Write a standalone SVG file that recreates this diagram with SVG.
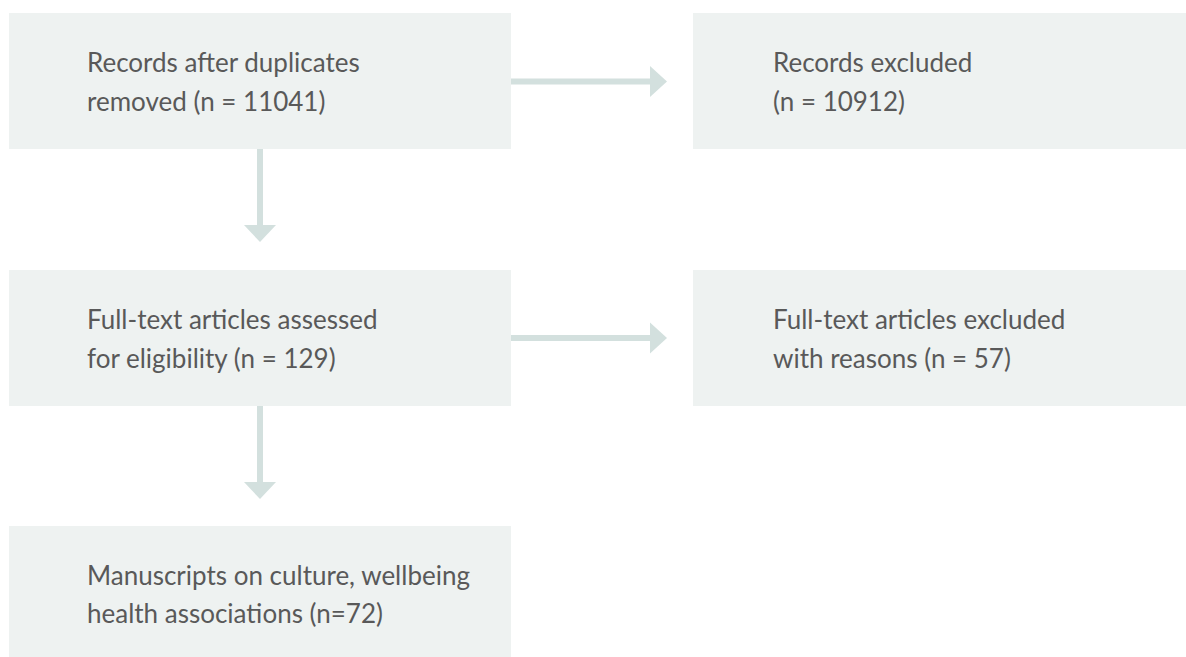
<svg xmlns="http://www.w3.org/2000/svg" width="1186" height="657" viewBox="0 0 1186 657">
<style>
.box{fill:#eef2f1}
.t{font-family:Lato,"Source Sans Pro","Noto Sans",sans-serif;font-size:26px;fill:#595959}
.c{fill:#d3e0de}
</style>
<rect width="1186" height="657" fill="#ffffff"/>
<g id="connectors">
<rect class="c" x="511" y="78.5" width="140" height="6"/>
<polygon class="c" points="650,66 650,97 667,81.5"/>
<rect class="c" x="511" y="335" width="140" height="6"/>
<polygon class="c" points="650,322.5 650,353.5 667,338"/>
<rect class="c" x="257" y="149" width="6" height="77"/>
<polygon class="c" points="244,225 276,225 260,242"/>
<rect class="c" x="257" y="406" width="6" height="77"/>
<polygon class="c" points="244,482 276,482 260,499"/>
</g>
<g id="n1"><rect class="box" x="9" y="13" width="502" height="136"/>
<text class="t" x="87" y="72">Records after duplicates</text>
<text class="t" x="87" y="111">removed (n = 11041)</text></g>
<g id="n2"><rect class="box" x="693" y="13" width="493" height="136"/>
<text class="t" x="773" y="72">Records excluded</text>
<text class="t" x="773" y="111">(n = 10912)</text></g>
<g id="n3"><rect class="box" x="9" y="270" width="502" height="136"/>
<text class="t" x="87" y="329">Full-text articles assessed</text>
<text class="t" x="87" y="368">for eligibility (n = 129)</text></g>
<g id="n4"><rect class="box" x="693" y="270" width="493" height="136"/>
<text class="t" x="773" y="329">Full-text articles excluded</text>
<text class="t" x="773" y="368">with reasons (n = 57)</text></g>
<g id="n5"><rect class="box" x="9" y="526" width="502" height="131"/>
<text class="t" x="87" y="585">Manuscripts on culture, wellbeing</text>
<text class="t" x="87" y="623">health associations (n=72)</text></g>
</svg>
